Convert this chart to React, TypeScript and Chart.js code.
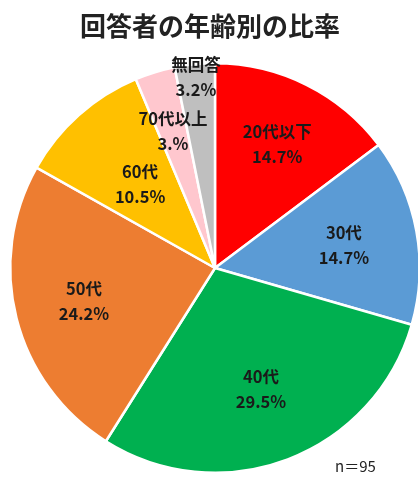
import React, { useEffect, useRef } from "react";
import { Chart, registerables } from "chart.js";

Chart.register(...registerables);

const categories = ["20代以下", "30代", "40代", "50代", "60代", "70代以上", "無回答"];
const counts = [14, 14, 28, 23, 10, 3, 3];
const percentLabels = ["14.7%", "14.7%", "29.5%", "24.2%", "10.5%", "3.%", "3.2%"];
const colors = ["#FF0000", "#5B9BD5", "#00B050", "#ED7D31", "#FFC000", "#FFC7CE", "#BFBFBF"];
const labelRadius = [0.68, 0.64, 0.63, 0.66, 0.55, 0.7, 0.94];

const TITLE = "回答者の年齢別の比率";
const NOTE = "n＝95";

export default function App() {
  const ref = useRef<HTMLCanvasElement>(null);
  useEffect(() => {
    if (!ref.current) return;
    const labelPlugin = {
      id: "sliceLabels",
      afterDatasetsDraw(chart: any) {
        const ctx = chart.ctx;
        const meta = chart.getDatasetMeta(0);
        ctx.save();
        ctx.font = 'bold 16.5px "Noto Sans CJK JP", "Noto Sans", sans-serif';
        ctx.fillStyle = "#1a1a1a";
        ctx.textAlign = "center";
        ctx.textBaseline = "middle";
        meta.data.forEach((arc: any, i: number) => {
          const p = arc.getProps(["x", "y", "startAngle", "endAngle", "outerRadius"], true);
          const mid = (p.startAngle + p.endAngle) / 2;
          const r = p.outerRadius * labelRadius[i];
          const cx = p.x + Math.cos(mid) * r;
          const cy = p.y + Math.sin(mid) * r;
          ctx.fillText(categories[i], cx, cy - 12);
          ctx.fillText(percentLabels[i], cx, cy + 13);
        });
        ctx.restore();
      },
    };
    const chart = new Chart(ref.current, {
      type: "pie",
      data: {
        labels: categories,
        datasets: [
          {
            data: counts,
            backgroundColor: colors,
            borderColor: "#FFFFFF",
            borderWidth: 2.5,
          },
        ],
      },
      options: {
        responsive: false,
        animation: false,
        layout: { padding: { left: 9, right: 9, top: 62, bottom: 5 } },
        plugins: {
          legend: { display: false },
          tooltip: { enabled: false },
          title: { display: false },
        },
      },
      plugins: [labelPlugin],
    });
    return () => chart.destroy();
  }, []);

  return (
    <div
      style={{
        position: "absolute",
        left: 0,
        top: 0,
        width: 418,
        height: 479,
        overflow: "hidden",
        background: "#FFFFFF",
      }}
    >
      <canvas ref={ref} width={430} height={479} style={{ position: "absolute", left: 0, top: 0, width: 430, height: 479 }} />
      <div
        style={{
          position: "absolute",
          left: 0,
          top: 8,
          width: 420,
          textAlign: "center",
          font: 'bold 26px "Noto Sans CJK JP", sans-serif',
          color: "#222222",
          lineHeight: "34px",
        }}
      >
        {TITLE}
      </div>
      <div
        style={{
          position: "absolute",
          left: 335,
          top: 456,
          font: '15px "Noto Sans CJK JP", sans-serif',
          color: "#222222",
          lineHeight: "20px",
        }}
      >
        {NOTE}
      </div>
    </div>
  );
}
